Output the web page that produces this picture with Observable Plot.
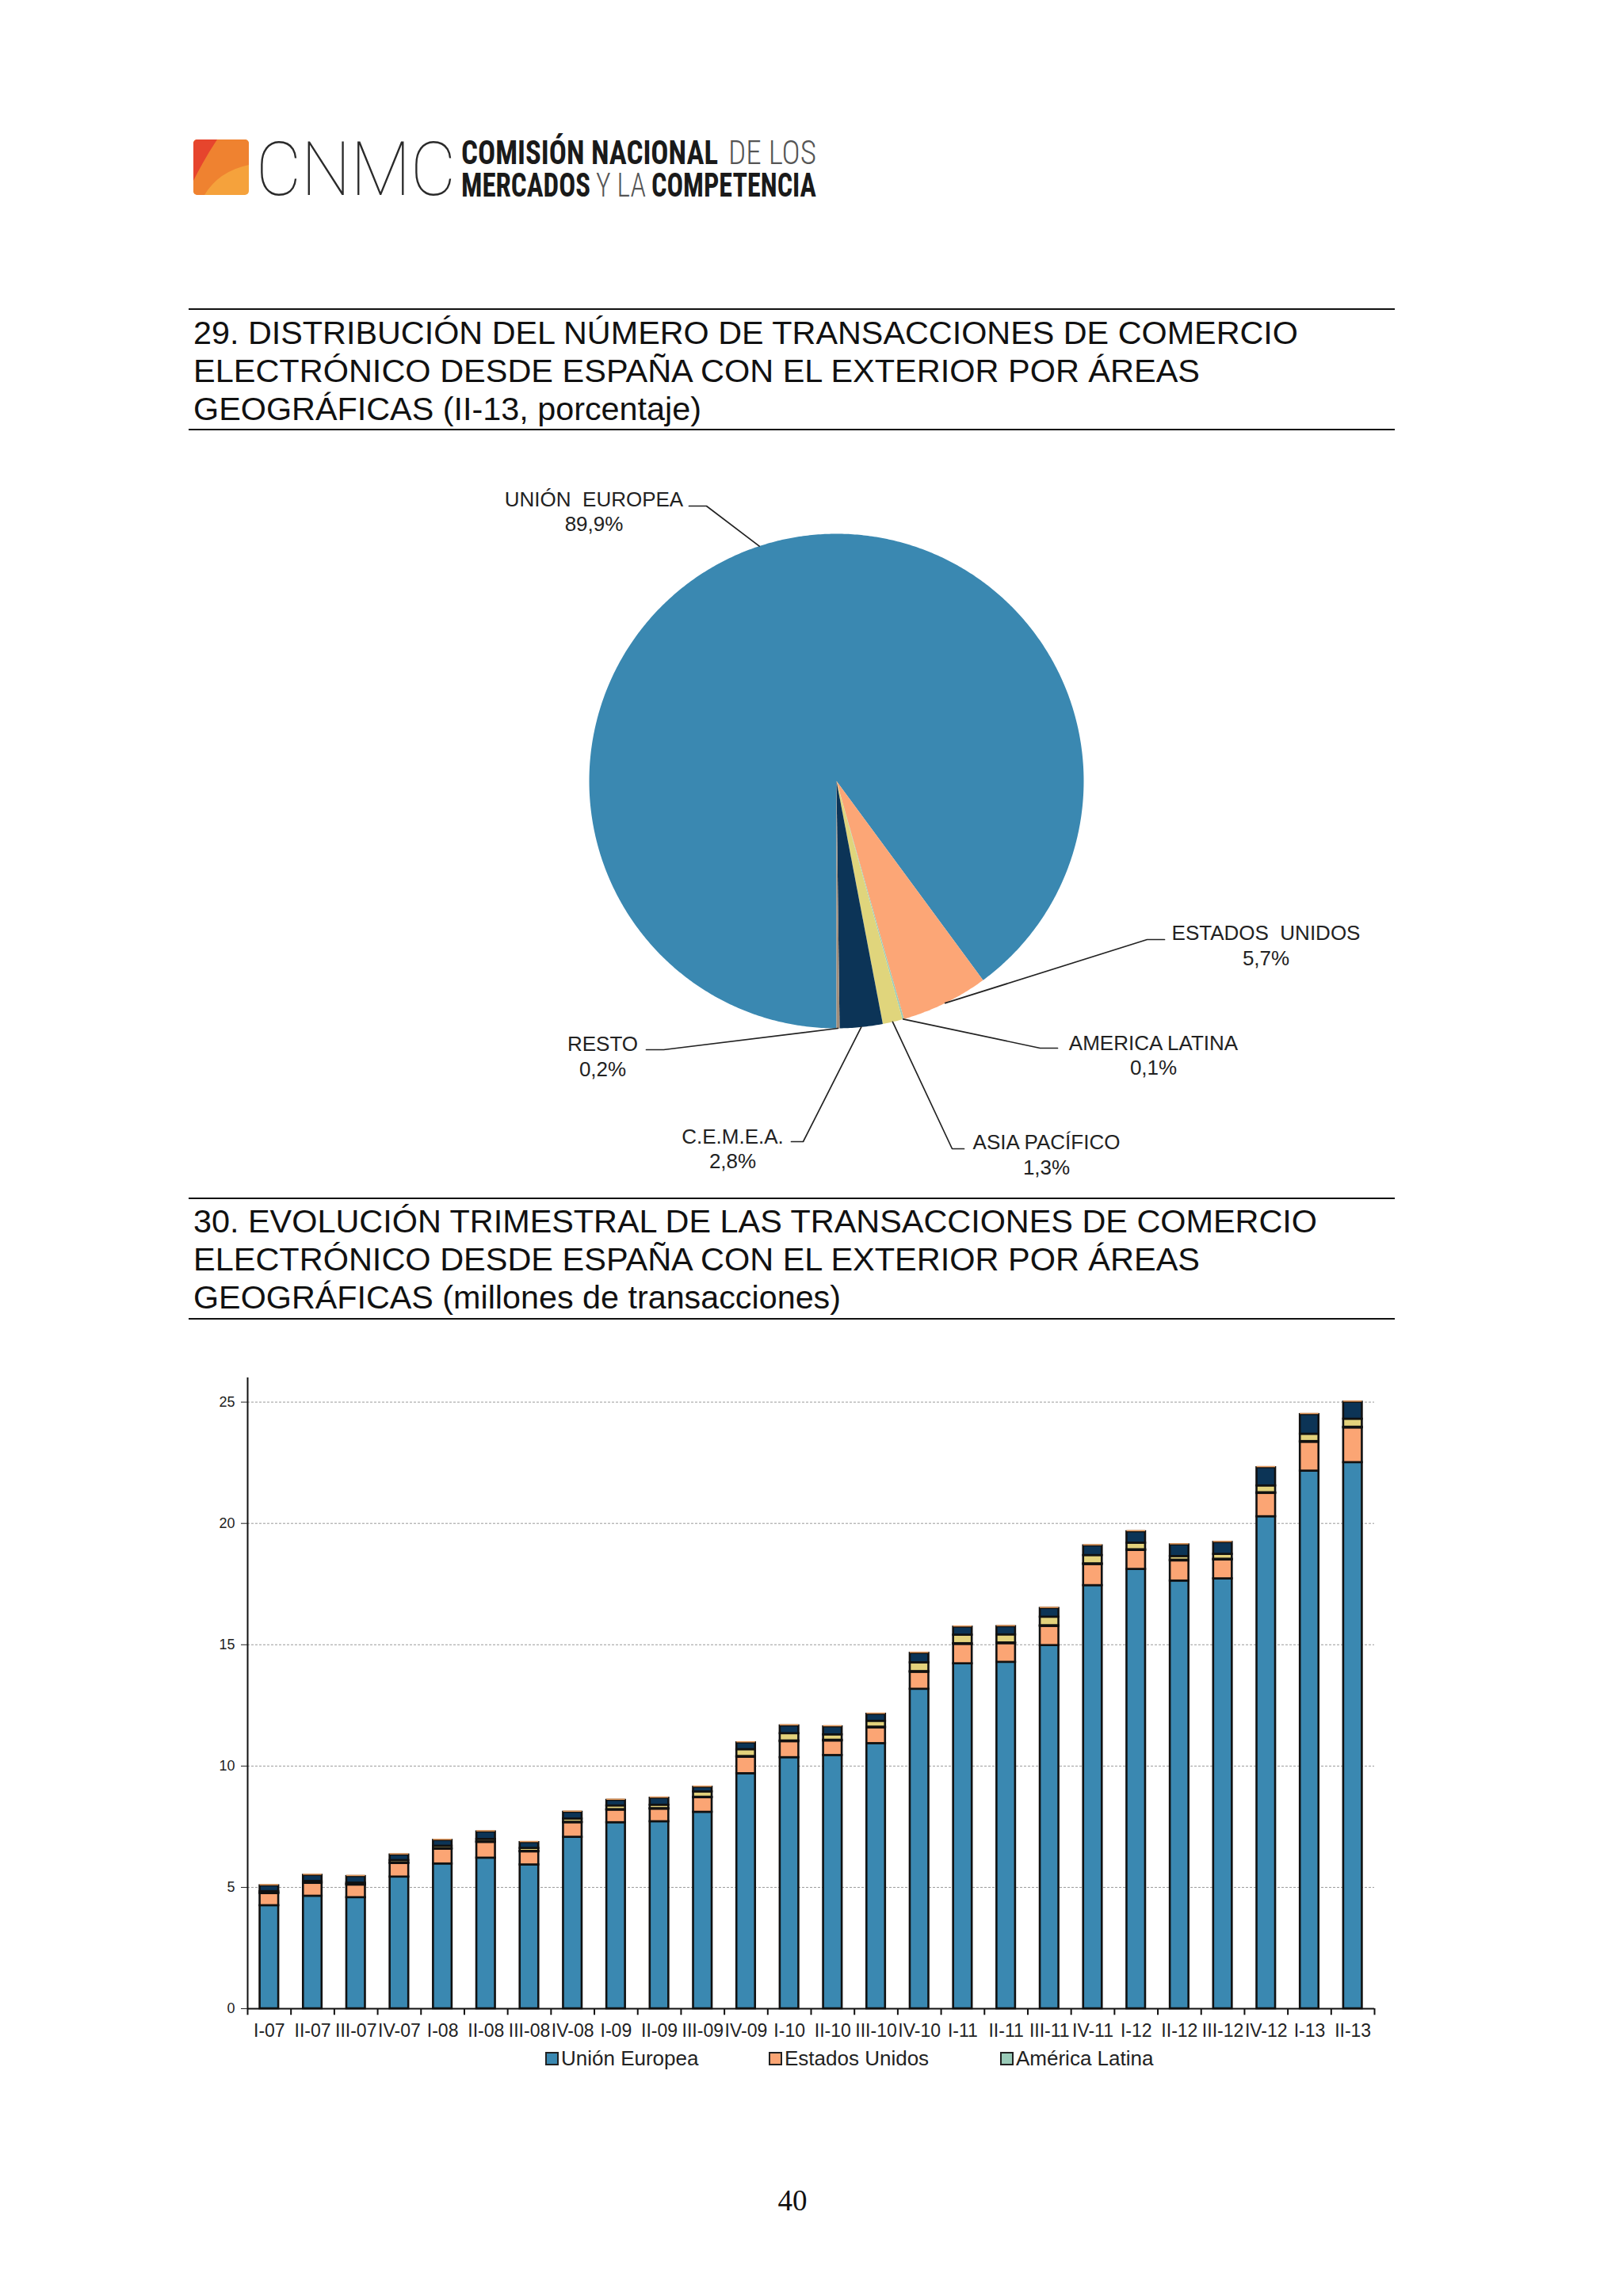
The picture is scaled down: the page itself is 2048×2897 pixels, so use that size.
<!DOCTYPE html>
<html>
<head>
<meta charset="utf-8">
<script src="https://cdn.jsdelivr.net/npm/d3@7"></script>
<script src="https://cdn.jsdelivr.net/npm/@observablehq/plot@0.6"></script>
<style>
html,body{margin:0;padding:0;background:#fff;}
#page{position:relative;width:2048px;height:2897px;overflow:hidden;background:#fff;font-family:"Liberation Sans",Arial,sans-serif;}
.abs{position:absolute;}
#legend{top:2581px;left:0;width:2048px;height:32px;font-size:26px;color:#222;}
.item{position:absolute;top:0;display:flex;align-items:center;height:32px;}
.sw{width:13px;height:13px;border:2px solid #222;margin-right:3px;}
</style>
</head>
<body>
<div id="page">
<svg id="static" class="abs" style="left:0;top:0" width="2048" height="2897">
  <defs><clipPath id="logoClip"><rect width="70" height="70" rx="5"/></clipPath></defs>
  <g transform="translate(244,176)" clip-path="url(#logoClip)">
    <rect width="70" height="70" fill="#F5A23C"/>
    <path d="M0,0H70V32Q32,40 14,70H0Z" fill="#EF8230"/>
    <path d="M0,0H30Q14,24 0,52Z" fill="#E6452D"/>
  </g>
  <text x="323" y="246" font-size="94" font-weight="100" textLength="252" lengthAdjust="spacingAndGlyphs" font-family="Roboto, Inter, Lato, sans-serif" fill="#2a2a2a">CNMC</text>
  <g font-size="42" font-family="'Liberation Sans Narrow','Roboto Condensed',Roboto,sans-serif">
    <text x="582" y="207" textLength="324" lengthAdjust="spacingAndGlyphs" font-weight="700" fill="#1a1a1a">COMISIÓN NACIONAL</text>
    <text x="919" y="207" textLength="111" lengthAdjust="spacingAndGlyphs" font-weight="300" fill="#555">DE LOS</text>
    <text x="582" y="248" textLength="163" lengthAdjust="spacingAndGlyphs" font-weight="700" fill="#1a1a1a">MERCADOS</text>
    <text x="752" y="248" textLength="63" lengthAdjust="spacingAndGlyphs" font-weight="300" fill="#555">Y LA</text>
    <text x="822" y="248" textLength="208" lengthAdjust="spacingAndGlyphs" font-weight="700" fill="#1a1a1a">COMPETENCIA</text>
  </g>

  <g font-family="'Liberation Sans',Arial,sans-serif" font-size="41" fill="#111">
    <line x1="238" x2="1760" y1="390" y2="390" stroke="#111" stroke-width="2"/>
    <text x="244" y="434" textLength="1394" lengthAdjust="spacingAndGlyphs">29. DISTRIBUCIÓN DEL NÚMERO DE TRANSACCIONES DE COMERCIO</text>
    <text x="244" y="482" textLength="1270" lengthAdjust="spacingAndGlyphs">ELECTRÓNICO DESDE ESPAÑA CON EL EXTERIOR POR ÁREAS</text>
    <text x="244" y="530" textLength="641" lengthAdjust="spacingAndGlyphs">GEOGRÁFICAS (II-13, porcentaje)</text>
    <line x1="238" x2="1760" y1="542" y2="542" stroke="#111" stroke-width="2"/>

    <line x1="238" x2="1760" y1="1512" y2="1512" stroke="#111" stroke-width="2"/>
    <text x="244" y="1555" textLength="1418" lengthAdjust="spacingAndGlyphs">30. EVOLUCIÓN TRIMESTRAL DE LAS TRANSACCIONES DE COMERCIO</text>
    <text x="244" y="1603" textLength="1270" lengthAdjust="spacingAndGlyphs">ELECTRÓNICO DESDE ESPAÑA CON EL EXTERIOR POR ÁREAS</text>
    <text x="244" y="1651" textLength="817" lengthAdjust="spacingAndGlyphs">GEOGRÁFICAS (millones de transacciones)</text>
    <line x1="238" x2="1760" y1="1664" y2="1664" stroke="#111" stroke-width="2"/>
  </g>
  <text x="1000" y="2789" text-anchor="middle" font-family="'Liberation Serif','Times New Roman',serif" font-size="37" fill="#111">40</text>
</svg>
<div id="pie" class="abs" style="left:0;top:560px"></div>
<div id="bars" class="abs" style="left:0;top:1700px"></div>
<div id="legend" class="abs"></div>
</div>
<script>
// ---------- Data: pie (II-13, %) ----------
const pieNames = ["UNIÓN  EUROPEA", "ESTADOS  UNIDOS", "AMERICA LATINA", "ASIA PACÍFICO", "C.E.M.E.A.", "RESTO"];
const piePct = [89.9, 5.7, 0.1, 1.3, 2.8, 0.2];
const pieColors = ["#3A88B1", "#FCA676", "#9ACBB8", "#E0D57C", "#0C3457", "#A48E7A"];

// ---------- Data: bars (millones de transacciones) ----------
const quarters = ["I-07","II-07","III-07","IV-07","I-08","II-08","III-08","IV-08","I-09","II-09","III-09","IV-09","I-10","II-10","III-10","IV-10","I-11","II-11","III-11","IV-11","I-12","II-12","III-12","IV-12","I-13","II-13"];
const seriesNames = ["Unión Europea","Estados Unidos","América Latina","Asia Pacífico","C.E.M.E.A.","Resto"];
const ue      = [4.25,4.64,4.58,5.43,5.97,6.21,5.93,7.07,7.67,7.71,8.10,9.69,10.35,10.44,10.93,13.17,14.22,14.28,14.97,17.44,18.11,17.63,17.72,20.28,22.16,22.51];
const eeuu    = [0.50,0.53,0.52,0.56,0.61,0.65,0.54,0.60,0.52,0.52,0.60,0.68,0.66,0.60,0.65,0.70,0.80,0.77,0.79,0.87,0.78,0.83,0.78,0.96,1.19,1.43];
const amLat   = [0.02,0.02,0.02,0.02,0.02,0.02,0.02,0.02,0.02,0.02,0.02,0.03,0.03,0.03,0.03,0.03,0.03,0.03,0.03,0.03,0.03,0.03,0.03,0.03,0.03,0.03];
const asiaPac = [0.06,0.06,0.06,0.10,0.10,0.10,0.12,0.13,0.15,0.14,0.22,0.28,0.30,0.22,0.24,0.36,0.35,0.33,0.35,0.34,0.27,0.15,0.20,0.28,0.30,0.33];
const cemea   = [0.24,0.25,0.27,0.23,0.24,0.31,0.24,0.28,0.23,0.29,0.19,0.28,0.32,0.33,0.29,0.39,0.33,0.34,0.36,0.40,0.47,0.48,0.49,0.75,0.81,0.70];
const resto   = [0.05,0.05,0.05,0.05,0.05,0.05,0.05,0.05,0.05,0.05,0.05,0.05,0.05,0.05,0.05,0.05,0.05,0.05,0.05,0.05,0.05,0.05,0.05,0.05,0.05,0.05];
const yTicks = [0,5,10,15,20,25];
const barColors = ["#3A88B1","#FBA574","#9ACBB8","#E3D27C","#0C3456","#E59B5E"];
const legendShown = ["Unión Europea","Estados Unidos","América Latina"];

// ---------- Pie ----------
const FONT = "'Liberation Sans', Arial, sans-serif";
const PW = 2048, PH = 940, PT = 560;        // svg size / page offset
const cx = 1055, cy = 985, R = 312;          // pie layout
// label layout: text centre, elbow, leader end (page coordinates)
const pieLabelLayout = [
  {tx: 749,  ty: 644,    ex: 891,  ey: 638,  lx: 869},
  {tx: 1597, ty: 1191.5, ex: 1447, ey: 1185, lx: 1469},
  {tx: 1455, ty: 1330,   ex: 1312, ey: 1322, lx: 1334},
  {tx: 1320, ty: 1455.5, ex: 1201, ey: 1449, lx: 1216},
  {tx: 924,  ty: 1448,   ex: 1013, ey: 1440, lx: 998},
  {tx: 760,  ty: 1331.5, ex: 837,  ey: 1324, lx: 815}
];
const arcs = d3.pie().sort(null).value(d => d).startAngle(Math.PI).endAngle(3 * Math.PI)(piePct);
const polar = (a, r) => ({x: cx + r * Math.sin(a), y: cy - r * Math.cos(a)});
const sliceRows = arcs.flatMap((a, i) => {
  const n = Math.max(2, Math.ceil((a.endAngle - a.startAngle) / (Math.PI / 360)));
  const pts = [{name: pieNames[i], x: cx, y: cy}];
  for (let k = 0; k <= n; k++) {
    const p = polar(a.startAngle + (a.endAngle - a.startAngle) * k / n, R);
    pts.push({name: pieNames[i], ...p});
  }
  return pts;
});
const leaderRows = arcs.flatMap((a, i) => {
  const L = pieLabelLayout[i];
  const p = polar((a.startAngle + a.endAngle) / 2, R);
  return [{name: pieNames[i], ...p}, {name: pieNames[i], x: L.ex, y: L.ey}, {name: pieNames[i], x: L.lx, y: L.ey}];
});
const labelRows = pieNames.map((n, i) => ({
  x: pieLabelLayout[i].tx, y: pieLabelLayout[i].ty,
  text: n + "\n" + piePct[i].toFixed(1).replace(".", ",") + "%"
}));

const pie = Plot.plot({
  width: PW, height: PH, margin: 0,
  style: {background: "transparent", fontFamily: FONT},
  x: {type: "linear", domain: [0, PW], range: [0, PW], axis: null},
  y: {type: "linear", domain: [PT, PT + PH], range: [0, PH], axis: null},
  color: {domain: pieNames, range: pieColors},
  marks: [
    Plot.line(sliceRows, {x: "x", y: "y", z: "name", fill: "name", stroke: "none"}),
    Plot.line(leaderRows, {x: "x", y: "y", z: "name", stroke: "#222", strokeWidth: 1.7}),
    Plot.text(labelRows, {x: "x", y: "y", text: "text", fontSize: 26, lineHeight: 1.2, fill: "#222"})
  ]
});
document.getElementById("pie").appendChild(pie);

// ---------- Bars ----------
const rows = seriesNames.flatMap((s, i) => {
  const vals = [ue, eeuu, amLat, asiaPac, cemea, resto][i];
  return quarters.map((q, j) => ({quarter: q, series: s, value: vals[j]}));
});
const BW = 2048, BH = 880, mL = 312, mR = 314;
const step = (BW - mL - mR) / quarters.length;

const bars = Plot.plot({
  width: BW, height: BH,
  marginLeft: mL, marginRight: mR, marginTop: 38, marginBottom: 46,
  style: {background: "transparent", fontFamily: FONT, color: "#222"},
  x: {domain: quarters, paddingInner: 0.57, paddingOuter: 0.285, round: false, label: null},
  y: {domain: [0, 26], label: null},
  color: {domain: seriesNames, range: barColors},
  marks: [
    Plot.gridY([5, 10, 15, 20, 25], {stroke: "#9a9a9a", strokeOpacity: 1, strokeDasharray: "3,2", strokeWidth: 1}),
    Plot.barY(rows, Plot.stackY({
      x: "quarter", y: "value", z: "series", fill: "series",
      stroke: "#111", strokeWidth: 2.6,
      strokeOpacity: d => d.series === "Resto" ? 0 : 1
    })),
    Plot.ruleY([0], {stroke: "#111", strokeWidth: 2}),
    Plot.ruleX([quarters[0]], {x: d => d, dx: -step / 2, y1: 0, y2: 26, stroke: "#111", strokeWidth: 2}),
    Plot.ruleX(quarters, {x: d => d, dx: -step / 2, y1: 0, y2: -0.27, stroke: "#111", strokeWidth: 2}),
    Plot.ruleX([quarters[quarters.length - 1]], {x: d => d, dx: step / 2, y1: 0, y2: -0.27, stroke: "#111", strokeWidth: 2}),
    Plot.axisY({ticks: yTicks, tickSize: 8, tickPadding: 8, fontSize: 18, tickFormat: d => String(d)}),
    Plot.axisX({tickSize: 0, tickPadding: 19, fontSize: 23, letterSpacing: 0.5})
  ]
});
document.getElementById("bars").appendChild(bars);

// ---------- Legend ----------
const legendX = [688, 970, 1262];
const leg = document.getElementById("legend");
legendShown.forEach((s, i) => {
  const it = document.createElement("div");
  it.className = "item";
  it.style.left = legendX[i] + "px";
  const sw = document.createElement("span");
  sw.className = "sw";
  sw.style.background = barColors[seriesNames.indexOf(s)];
  const tx = document.createElement("span");
  tx.textContent = s;
  it.appendChild(sw); it.appendChild(tx);
  leg.appendChild(it);
});
</script>
</body>
</html>
